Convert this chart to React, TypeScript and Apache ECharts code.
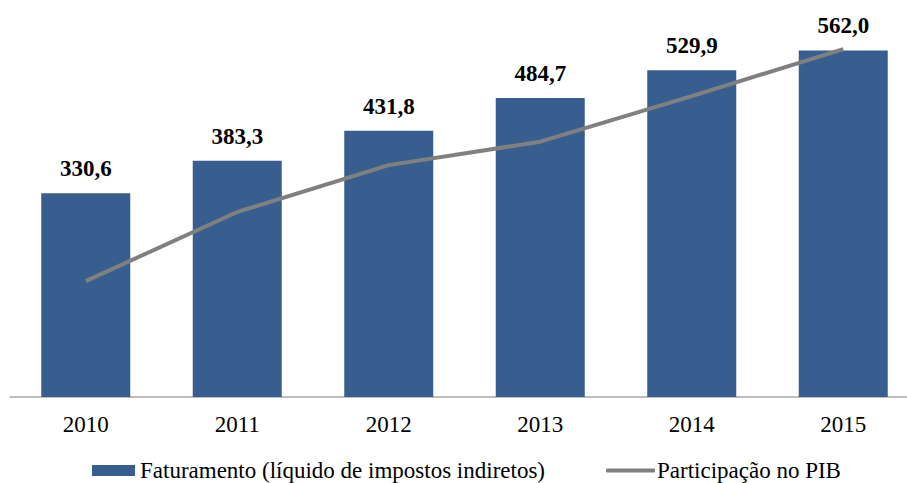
import React, { useEffect, useRef } from "react";
import * as echarts from "echarts";

const categories = ["2010", "2011", "2012", "2013", "2014", "2015"];
const faturamento = [330.6, 383.3, 431.8, 484.7, 529.9, 562.0];
const participacao = [6.94, 7.5, 7.88, 8.07, 8.44, 8.82];

const FONT = "Liberation Serif";

export default function App() {
  const ref = useRef<HTMLDivElement>(null);
  useEffect(() => {
    const chart = echarts.init(ref.current!, undefined, { renderer: "svg" });
    chart.setOption({
      animation: false,
      backgroundColor: "#ffffff",
      textStyle: { fontFamily: FONT },
      grid: { left: 10, top: 27, height: 370, width: 909 },
      legend: [
        {
          data: ["Faturamento (líquido de impostos indiretos)"],
          left: 92,
          top: 459,
          padding: 0,
          itemWidth: 43,
          itemHeight: 11,
          icon: "rect",
          textStyle: { fontFamily: FONT, fontSize: 23, color: "#000" },
        },
        {
          data: ["Participação no PIB"],
          left: 606,
          top: 459,
          padding: 0,
          itemWidth: 49,
          itemHeight: 4,
          icon: "roundRect",
          textStyle: { fontFamily: FONT, fontSize: 23, color: "#000", padding: [0, 0, 0, -3] },
        },
      ],
      xAxis: {
        type: "category",
        data: categories,
        axisLine: { lineStyle: { color: "#a6a6a6", width: 1.5 } },
        axisTick: { show: false },
        axisLabel: { fontFamily: FONT, fontSize: 23, color: "#000", margin: 16 },
      },
      yAxis: [
        { type: "value", min: 0, max: 600, show: false, splitLine: { show: false } },
        { type: "value", min: 6, max: 9, show: false, splitLine: { show: false } },
      ],
      series: [
        {
          name: "Faturamento (líquido de impostos indiretos)",
          type: "bar",
          data: faturamento,
          barWidth: 89,
          itemStyle: { color: "#375E8F" },
          label: {
            show: true,
            position: "top",
            distance: 13,
            fontFamily: FONT,
            fontSize: 23,
            fontWeight: "bold",
            color: "#000",
            formatter: (p: any) => Number(p.value).toFixed(1).replace(".", ","),
          },
        },
        {
          name: "Participação no PIB",
          type: "line",
          yAxisIndex: 1,
          data: participacao,
          showSymbol: false,
          symbol: "none",
          lineStyle: { color: "#808080", width: 4 },
          itemStyle: { color: "#808080" },
        },
      ],
    });
    return () => chart.dispose();
  }, []);
  return (
    <div style={{ position: "absolute", left: 0, top: 0, width: 907, height: 483, overflow: "hidden" }}>
      <div ref={ref} style={{ width: 925, height: 483 }} />
    </div>
  );
}
